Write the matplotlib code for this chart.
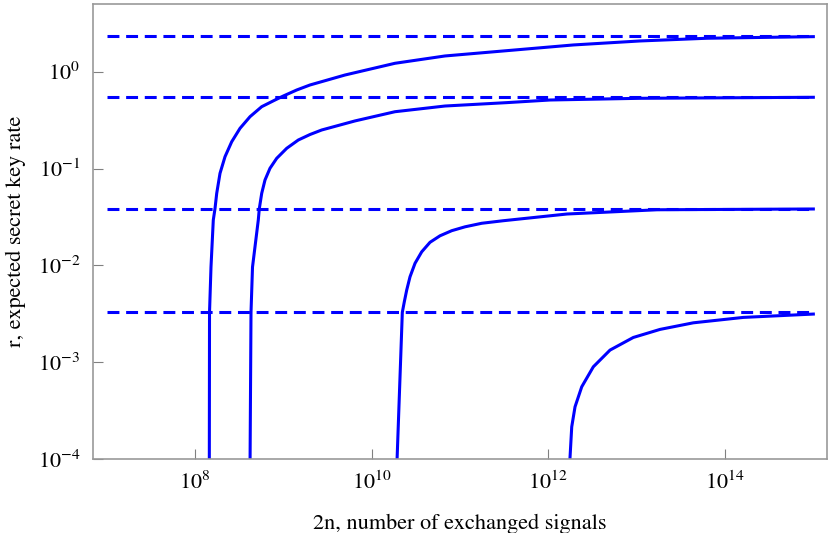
import matplotlib
matplotlib.use("Agg")
import matplotlib.pyplot as plt

plt.rcParams['font.family'] = ['STIXGeneral', 'DejaVu Serif']
plt.rcParams['mathtext.fontset'] = 'stix'

# asymptotic key rates (dashed lines)
asymptotes = [2.35, 0.544, 0.0382, 0.00327]
n_range = [1e7, 1e15]

# finite-size key rate curves
n1 = [1.452e8, 1.46e8, 1.517e8, 1.611e8, 1.684e8, 1.761e8, 1.919e8, 2.186e8, 2.603e8,
      3.232e8, 4.195e8, 5.69e8, 8.05e8, 1.0e9, 1.417e9, 2.005e9, 4.99e9, 1.836e10,
      6.76e10, 3.38e11, 1.92e12, 1.09e13, 6.21e13, 1e15]
r1 = [7.7e-5, 0.00327, 0.0096, 0.0294, 0.0385, 0.0554, 0.0892, 0.1324, 0.189,
      0.260, 0.343, 0.435, 0.510, 0.561, 0.647, 0.729, 0.924, 1.221,
      1.453, 1.648, 1.888, 2.076, 2.214, 2.30]

n2 = [4.195e8, 4.305e8, 4.477e8, 5.206e8, 5.346e8, 5.69e8, 6.20e8, 7.06e8, 8.41e8,
      1.092e9, 1.477e9, 2.005e9, 2.72e9, 6.47e9, 1.836e10, 6.76e10, 3.38e11,
      1.045e12, 1.09e13, 1e15]
r2 = [7.7e-5, 0.00327, 0.0096, 0.0294, 0.0385, 0.0554, 0.0761, 0.1005, 0.1274,
      0.1617, 0.197, 0.2245, 0.250, 0.310, 0.386, 0.442, 0.479,
      0.510, 0.531, 0.544]

n3 = [1.92e10, 2.223e10, 2.342e10, 2.493e10, 2.717e10, 3.096e10, 3.686e10, 4.576e10,
      5.94e10, 8.06e10, 1.14e11, 1.762e11, 3.09e11, 1.627e12, 1.70e13, 1e15]
r3 = [7.7e-5, 0.00327, 0.00421, 0.00556, 0.00762, 0.0105, 0.0138, 0.0173,
      0.0202, 0.0228, 0.0250, 0.0272, 0.0289, 0.0339, 0.0375, 0.0382]

n4 = [1.728e12, 1.84e12, 2.005e12, 2.388e12, 3.23e12, 4.99e12, 9.16e12, 1.837e13,
      4.375e13, 1.61e14, 1e15]
r4 = [7.7e-5, 2.15e-4, 3.46e-4, 5.57e-4, 8.96e-4, 1.333e-3, 1.80e-3, 2.18e-3,
      2.55e-3, 2.90e-3, 3.14e-3]

xticks = [1e8, 1e10, 1e12, 1e14]
yticks = [1e-4, 1e-3, 1e-2, 1e-1, 1e0]

fig = plt.figure(figsize=(8.3, 5.33), dpi=100)
ax = fig.add_axes([0.1117, 0.1388, 0.8843, 0.8537])

for a in asymptotes:
    ax.plot(n_range, [a, a], color='#0000ff', lw=2.2, ls=(0, (3.9, 2.2)))
for n, r in [(n1, r1), (n2, r2), (n3, r3), (n4, r4)]:
    ax.plot(n, r, color='#0000ff', lw=2.2, solid_joinstyle='round')

ax.set_xscale('log')
ax.set_yscale('log')
ax.set_xlim(10**6.842, 10**15.151)
ax.set_ylim(1e-4, 5.0)
ax.set_xticks(xticks)
ax.set_yticks(yticks)
ax.minorticks_off()
ax.tick_params(direction='in', length=7, width=0.8, color='#808080', labelsize=16, pad=9,
               top=False, right=False)
for s in ax.spines.values():
    s.set_color('#999999')
    s.set_linewidth(1.2)

ax.set_xlabel('2n, number of exchanged signals', fontsize=16, labelpad=14)
ax.set_ylabel('r, expected secret key rate', fontsize=16, labelpad=8)

fig.savefig('out.png', dpi=100)
